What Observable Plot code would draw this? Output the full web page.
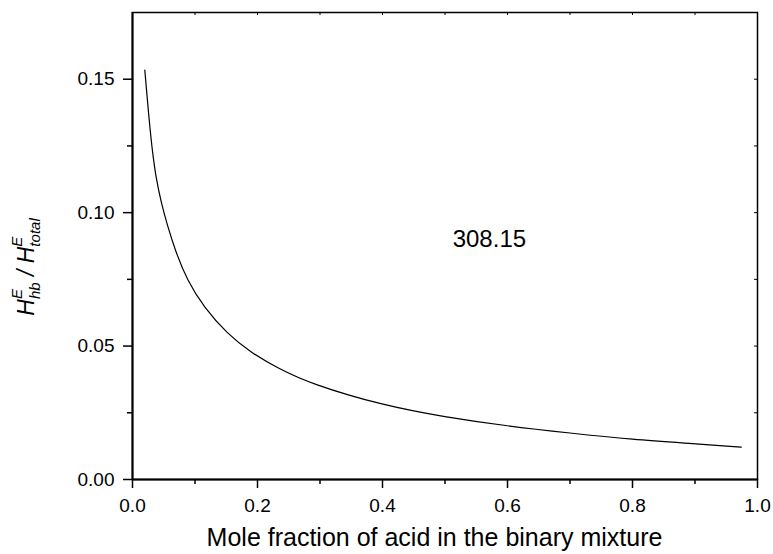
<!DOCTYPE html>
<html><head><meta charset="utf-8">
<script src="https://cdn.jsdelivr.net/npm/d3@7"></script>
<script src="https://cdn.jsdelivr.net/npm/@observablehq/plot@0.6"></script>
<style>body{margin:0;background:#fff} #chart{width:773px;height:554px}</style>
</head><body><div id="chart"></div>
<script>
// Data
const moleFraction = [0.0197, 0.0235, 0.0272, 0.0315, 0.0379, 0.0464, 0.0555, 0.0688, 0.0875, 0.1141, 0.1515, 0.1888, 0.2341, 0.285, 0.40, 0.50, 0.60, 0.70, 0.80, 0.90, 0.974];
const hbRatio      = [0.1534, 0.1430, 0.1335, 0.1235, 0.1125, 0.1034, 0.0955, 0.0855, 0.0746, 0.0646, 0.0546, 0.0477, 0.0415, 0.0359, 0.0278, 0.0234, 0.0200, 0.0174, 0.0150, 0.0134, 0.0121];

const xMajorTicks = [0, 0.2, 0.4, 0.6, 0.8, 1.0];
const xMinorTicks = [0.1, 0.3, 0.5, 0.7, 0.9];
const yMajorTicks = [0, 0.05, 0.10, 0.15];
const yMinorTicks = [0.025, 0.075, 0.125];
const xDomain = [0, 1];
const yDomain = [0, 0.175];
const annotationX = [0.571];
const annotationY = [0.090];
const annotationText = ["308.15"];
const xLabel = "Mole fraction of acid in the binary mixture";

const W = 773, H = 554;
const mL = 132, mR = 16, mT = 12, mB = 75;
const innerW = W - mL - mR, innerH = H - mT - mB;
const FONT = "'Liberation Sans', Arial, Helvetica, sans-serif";

const curve = moleFraction.map((x, i) => ({x, y: hbRatio[i]}));
const notes = annotationText.map((t, i) => ({x: annotationX[i], y: annotationY[i], t}));

const svg = Plot.plot({
  width: W, height: H,
  marginLeft: mL, marginRight: mR, marginTop: mT, marginBottom: mB,
  style: {fontFamily: FONT, fontSize: "19px", color: "black", background: "white", overflow: "visible"},
  x: {domain: xDomain, label: null},
  y: {domain: yDomain, label: null},
  marks: [
    Plot.axisY(yMajorTicks, {tickSize: 9, tickPadding: 9, tickFormat: d3.format(".2f"), label: null, fontSize: 19, strokeWidth: 1.5}),
    Plot.axisY(yMinorTicks, {tickSize: 5, tickFormat: () => "", label: null, strokeWidth: 1.5}),
    Plot.axisX(xMajorTicks, {tickSize: 9, tickPadding: 10, tickFormat: d3.format(".1f"), label: null, fontSize: 19, strokeWidth: 1.5}),
    Plot.axisX(xMinorTicks, {tickSize: 5, tickFormat: () => "", label: null, strokeWidth: 1.5}),
    Plot.tickX([...xMajorTicks, ...xMinorTicks], {x: d => d, insetBottom: innerH - 3, stroke: "black", strokeWidth: 1}),
    Plot.tickY([...yMajorTicks, ...yMinorTicks], {y: d => d, insetLeft: innerW - 3, stroke: "black", strokeWidth: 1}),
    Plot.frame({stroke: "black", strokeWidth: 1.5}),
    Plot.ruleX([xDomain[0]], {stroke: "black", strokeWidth: 2}),
    Plot.ruleY([yDomain[0]], {stroke: "black", strokeWidth: 2}),
    Plot.line(curve, {x: "x", y: "y", curve: "basis", stroke: "black", strokeWidth: 1.2}),
    Plot.text(notes, {x: "x", y: "y", text: "t", fontSize: 24, textAnchor: "middle", fill: "black"})
  ]
});

const s = d3.select(svg);
// x-axis title
s.append("text")
  .attr("x", mL + innerW / 2 - 10).attr("y", 546)
  .attr("text-anchor", "middle")
  .attr("font-size", 25).attr("font-family", FONT).attr("fill", "black")
  .text(xLabel);

// y-axis title: H^E_hb / H^E_total
const yt = s.append("text")
  .attr("transform", `translate(34, 267) rotate(-90)`)
  .attr("text-anchor", "middle")
  .attr("font-size", 23).attr("font-family", FONT).attr("font-style", "italic").attr("fill", "black");
yt.append("tspan").text("H");
yt.append("tspan").attr("font-size", 15).attr("dy", -12).text("E");
yt.append("tspan").attr("font-size", 15).attr("dx", -10).attr("dy", 18).text("hb");
yt.append("tspan").attr("dy", -6).text(" / H");
yt.append("tspan").attr("font-size", 15).attr("dy", -12).text("E");
yt.append("tspan").attr("font-size", 15).attr("dx", -10).attr("dy", 18).text("total");

document.getElementById("chart").appendChild(svg);
</script>
</body></html>
